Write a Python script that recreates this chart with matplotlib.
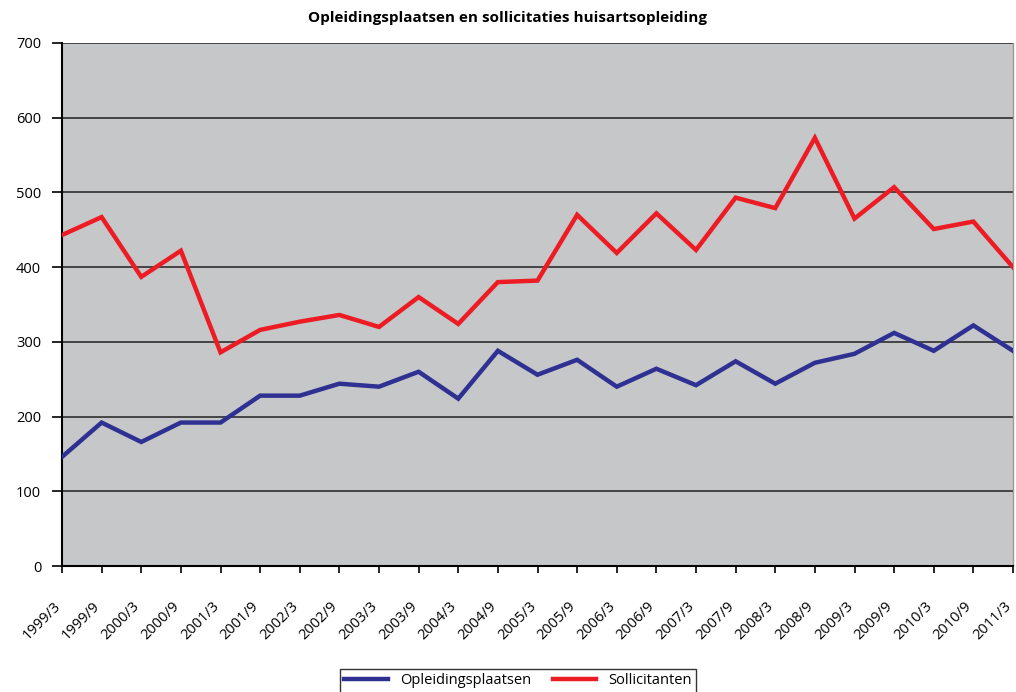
import matplotlib
matplotlib.use("Agg")
import matplotlib.pyplot as plt
import matplotlib.transforms as mtransforms

categories = ["1999/3", "1999/9", "2000/3", "2000/9", "2001/3", "2001/9", "2002/3", "2002/9",
              "2003/3", "2003/9", "2004/3", "2004/9", "2005/3", "2005/9", "2006/3", "2006/9",
              "2007/3", "2007/9", "2008/3", "2008/9", "2009/3", "2009/9", "2010/3", "2010/9",
              "2011/3"]
opleidingsplaatsen = [146, 192, 166, 192, 192, 228, 228, 244, 240, 260, 224, 288, 256,
                      276, 240, 264, 242, 274, 244, 272, 284, 312, 288, 322, 288]
sollicitanten = [443, 467, 387, 422, 286, 316, 327, 336, 320, 360, 324, 380, 382,
                 470, 419, 472, 423, 493, 479, 573, 465, 507, 451, 461, 400]
yticks = [0, 100, 200, 300, 400, 500, 600, 700]

plt.rcParams['font.family'] = ['Open Sans', 'DejaVu Sans']

fig = plt.figure(figsize=(10.16, 6.92), dpi=100)
ax = fig.add_axes([62/1016, 1-566/692, (1013-62)/1016, (566-43)/692])
ax.set_facecolor('#C6C7C9')

x = list(range(len(categories)))
ax.plot(x, opleidingsplaatsen, color='#2E3192', lw=3.2, label='Opleidingsplaatsen', solid_joinstyle='miter', zorder=3)
ax.plot(x, sollicitanten, color='#ED1C24', lw=3.2, label='Sollicitanten', solid_joinstyle='miter', zorder=3)

ax.set_xlim(0, len(categories) - 1)
ax.set_ylim(0, 700)
ax.set_yticks(yticks)
ax.set_yticklabels([str(v) for v in yticks], fontsize=10.5)
ax.set_xticks(x)
ax.set_xticklabels(categories, rotation=45, ha='right', rotation_mode='anchor', fontsize=10.5)
ax.tick_params(axis='x', direction='out', length=5, width=1.2, pad=12)
ax.tick_params(axis='y', direction='out', length=7, width=1.2, pad=8)
offset = mtransforms.ScaledTranslation(-9/100, -9/100, fig.dpi_scale_trans)
for lab in ax.get_xticklabels():
    lab.set_transform(lab.get_transform() + offset)
ax.yaxis.grid(True, color='#3a3a3a', lw=1.3)
ax.set_axisbelow(True)
ax.spines['top'].set_visible(False)
ax.spines['right'].set_color('#999999')
ax.spines['right'].set_linewidth(1)
ax.spines['left'].set_linewidth(1.5)
ax.spines['bottom'].set_linewidth(1.5)

fig.text(508/1016, 1-18/692, 'Opleidingsplaatsen en sollicitaties huisartsopleiding',
         ha='center', va='center', fontsize=11, fontweight='bold')

leg = fig.legend(loc='center', bbox_to_anchor=(518/1016, 1-681/692), ncol=2, frameon=True,
                 fancybox=False, edgecolor='black', fontsize=10.5, handlelength=3,
                 columnspacing=1.5, borderpad=0.3)
leg.get_frame().set_linewidth(1.0)

fig.savefig('out.png', dpi=100)
